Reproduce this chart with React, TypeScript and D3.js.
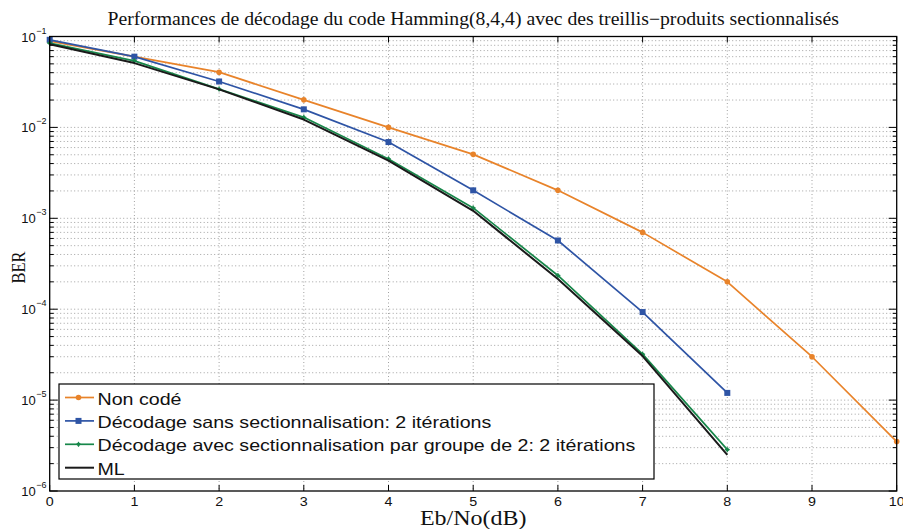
import React from "react";
import * as d3 from "d3";

const TITLE = "Performances de décodage du code Hamming(8,4,4) avec des treillis\u2212produits sectionnalisés";
const X_LABEL = "Eb/No(dB)";
const Y_LABEL = "BER";
const X_TICKS = [0, 1, 2, 3, 4, 5, 6, 7, 8, 9, 10];
const Y_EXPONENTS = [-1, -2, -3, -4, -5, -6];

const SERIES_NAMES = [
  "Non codé",
  "Décodage sans sectionnalisation: 2 itérations",
  "Décodage avec sectionnalisation par groupe de 2: 2 itérations",
  "ML",
];
const SERIES_COLORS = ["#E8832A", "#2E54A5", "#17874A", "#1a1a1a"];

const EBNO_UNCODED = [0, 1, 2, 3, 4, 5, 6, 7, 8, 9, 10];
const BER_UNCODED = [0.089, 0.06, 0.0405, 0.0201, 0.01, 0.00505, 0.00203, 0.0007, 0.0002, 0.00003, 0.0000035];
const EBNO_CODED = [0, 1, 2, 3, 4, 5, 6, 7, 8];
const BER_NOSECT = [0.092, 0.06, 0.032, 0.0158, 0.0069, 0.00203, 0.00057, 0.000093, 0.000012];
const BER_SECT = [0.0845, 0.054, 0.0264, 0.0129, 0.0045, 0.0013, 0.000235, 0.000032, 0.00000285];
const BER_ML = [0.082, 0.051, 0.0262, 0.0122, 0.0043, 0.00121, 0.000215, 0.0000305, 0.0000025];

const W = 903;
const H = 529;
const L = 49.7;
const R = 896.7;
const T = 36.5;
const B = 491;

export default function App() {
  const x = d3.scaleLinear().domain([0, 10]).range([L, R]);
  const y = d3.scaleLog().domain([1e-6, 1e-1]).range([B, T]);

  const series = [
    { xs: EBNO_UNCODED, ys: BER_UNCODED, marker: "circle" },
    { xs: EBNO_CODED, ys: BER_NOSECT, marker: "square" },
    { xs: EBNO_CODED, ys: BER_SECT, marker: "plus" },
    { xs: EBNO_CODED, ys: BER_ML, marker: "none" },
  ];

  const line = d3
    .line<[number, number]>()
    .x((d) => x(d[0]))
    .y((d) => y(d[1]));

  const minorVals: number[] = [];
  for (let e = -6; e < -1; e++) {
    for (let m = 2; m <= 9; m++) minorVals.push(m * Math.pow(10, e));
  }
  const majorVals = Y_EXPONENTS.map((e) => Math.pow(10, e));

  const drawMarker = (kind: string, cx: number, cy: number, color: string, key: string) => {
    if (kind === "circle") return <circle key={key} cx={cx} cy={cy} r={2.8} fill={color} />;
    if (kind === "square")
      return <rect key={key} x={cx - 3} y={cy - 3} width={6} height={6} fill={color} />;
    if (kind === "plus")
      return (
        <g key={key}>
          <circle cx={cx} cy={cy} r={1.8} fill={color} />
          <line x1={cx - 2.5} x2={cx + 2.5} y1={cy} y2={cy} stroke={color} strokeWidth={1.2} />
          <line x1={cx} x2={cx} y1={cy - 2.5} y2={cy + 2.5} stroke={color} strokeWidth={1.2} />
        </g>
      );
    return null;
  };

  const sansFont = "'Liberation Sans', Arial, sans-serif";
  const serifFont = "'Liberation Serif', 'Times New Roman', serif";

  const legX = 59;
  const legY = 384;
  const legW = 595;
  const legH = 95;
  const rowH = 23.4;

  return (
    <svg width={W} height={H} style={{ position: "absolute", left: 0, top: 0, background: "#fff" }}>
      <rect x={0} y={0} width={W} height={H} fill="#fff" />
      {/* grid */}
      <g stroke="#8a8a8a" strokeWidth={0.8} strokeDasharray="1,2.5">
        {X_TICKS.slice(1, -1).map((t) => (
          <line key={"gx" + t} x1={x(t)} x2={x(t)} y1={T} y2={B} />
        ))}
        {[...majorVals.slice(1, -1), ...minorVals].map((v, i) => (
          <line key={"gy" + i} x1={L} x2={R} y1={y(v)} y2={y(v)} />
        ))}
      </g>
      {/* ticks */}
      <g stroke="#000" strokeWidth={1}>
        {X_TICKS.map((t) => (
          <g key={"tx" + t}>
            <line x1={x(t)} x2={x(t)} y1={B} y2={B - 6} />
            <line x1={x(t)} x2={x(t)} y1={T} y2={T + 6} />
          </g>
        ))}
        {majorVals.map((v, i) => (
          <g key={"ty" + i}>
            <line x1={L} x2={L + 8} y1={y(v)} y2={y(v)} />
            <line x1={R} x2={R - 8} y1={y(v)} y2={y(v)} />
          </g>
        ))}
        {minorVals.map((v, i) => (
          <g key={"tym" + i}>
            <line x1={L} x2={L + 4} y1={y(v)} y2={y(v)} />
            <line x1={R} x2={R - 4} y1={y(v)} y2={y(v)} />
          </g>
        ))}
      </g>
      {/* series */}
      <g>
        {series.map((s, si) => {
          const pts = s.xs.map((xv, i) => [xv, s.ys[i]] as [number, number]);
          return (
            <g key={"s" + si}>
              <path
                d={line(pts) || ""}
                fill="none"
                stroke={SERIES_COLORS[si]}
                strokeWidth={si === 3 ? 2 : 1.7}
                strokeLinejoin="round"
              />
              {pts.map((p, i) => drawMarker(s.marker, x(p[0]), y(p[1]), SERIES_COLORS[si], "m" + si + "-" + i))}
            </g>
          );
        })}
      </g>
      {/* axes box */}
      <rect x={L} y={T} width={R - L} height={B - T} fill="none" stroke="#000" strokeWidth={1.3} />
      {/* x tick labels */}
      <g fontFamily={sansFont} fontSize={13} fill="#111">
        {X_TICKS.map((t) => (
          <text key={"xl" + t} transform={`translate(${x(t)}, ${B + 14.5}) scale(1.1, 1)`} textAnchor="middle">
            {t}
          </text>
        ))}
      </g>
      {/* y tick labels */}
      <g fontFamily={sansFont} fill="#111">
        {Y_EXPONENTS.map((e) => (
          <text key={"yl" + e} x={L - 14} y={y(Math.pow(10, e)) + 5} textAnchor="end" fontSize={13}>
            10
          </text>
        ))}
        {Y_EXPONENTS.map((e) => (
          <text key={"ye" + e} x={L - 13.5} y={y(Math.pow(10, e)) - 3} textAnchor="start" fontSize={9}>
            {"\u2212" + Math.abs(e)}
          </text>
        ))}
      </g>
      {/* title and labels */}
      <text
        transform={`translate(${(L + R) / 2}, 25) scale(1.095, 1)`}
        textAnchor="middle"
        fontFamily={serifFont}
        fontSize={18}
        fill="#111"
      >
        {TITLE}
      </text>
      <text
        transform={`translate(${(L + R) / 2}, 525) scale(1.2, 1)`}
        textAnchor="middle"
        fontFamily={serifFont}
        fontSize={20}
        fill="#111"
      >
        {X_LABEL}
      </text>
      <text
        transform={`translate(25, 267.5) rotate(-90) scale(1, 1.2)`}
        textAnchor="middle"
        fontFamily={serifFont}
        fontSize={16.5}
        fill="#111"
      >
        {Y_LABEL}
      </text>
      {/* legend */}
      <g>
        <rect x={legX} y={legY} width={legW} height={legH} fill="#fff" stroke="#000" strokeWidth={1.2} />
        {SERIES_NAMES.map((name, i) => {
          const cy = legY + 13.5 + i * rowH;
          return (
            <g key={"lg" + i}>
              <line x1={legX + 6} x2={legX + 35} y1={cy} y2={cy} stroke={SERIES_COLORS[i]} strokeWidth={i === 3 ? 2 : 1.7} />
              {drawMarker(series[i].marker, legX + 19.5, cy, SERIES_COLORS[i], "lm" + i)}
              <text
                transform={`translate(${legX + 38.5}, ${cy + 7}) scale(1.19, 1)`}
                fontFamily={sansFont}
                fontSize={16.5}
                fill="#111"
              >
                {name}
              </text>
            </g>
          );
        })}
      </g>
    </svg>
  );
}
